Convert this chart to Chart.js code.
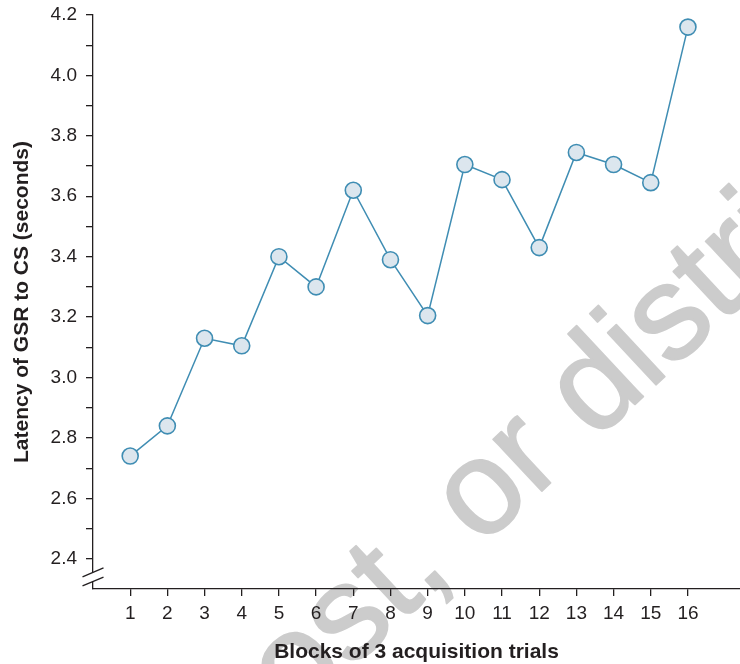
<!DOCTYPE html>
<html>
<head>
<meta charset="utf-8">
<script src="https://cdn.jsdelivr.net/npm/chart.js@4/dist/chart.umd.min.js"></script>
<style>
  html, body { margin: 0; padding: 0; background: #ffffff; }
  #c { display: block; }
</style>
</head>
<body>
<canvas id="c" width="740" height="664"></canvas>
<script>
// Mean latency of the GSR to the CS, per block of 3 acquisition trials
const blocks  = [1, 2, 3, 4, 5, 6, 7, 8, 9, 10, 11, 12, 13, 14, 15, 16];
const latency = [2.74, 2.84, 3.13, 3.105, 3.40, 3.30, 3.62, 3.39, 3.205, 3.705, 3.655, 3.43, 3.745, 3.705, 3.645, 4.16];

// Y axis: a tick every 0.1 s, a label every 0.2 s
const yTicks  = [2.4, 2.5, 2.6, 2.7, 2.8, 2.9, 3.0, 3.1, 3.2, 3.3, 3.4, 3.5, 3.6, 3.7, 3.8, 3.9, 4.0, 4.1, 4.2];
const yLabels = ['2.4', '2.6', '2.8', '3.0', '3.2', '3.4', '3.6', '3.8', '4.0', '4.2'];

// Where the y axis is broken (between these two values)
const yBreak = [2.325, 2.355];

const INK = '#231f20';
const LINE = '#3f8db3';
const FILL = '#dce6ee';
const FONT = '"Liberation Sans", Arial, Helvetica, sans-serif';

const background = {
  id: 'background',
  beforeDraw(chart) {
    const ctx = chart.ctx;
    ctx.save();
    ctx.fillStyle = '#ffffff';
    ctx.fillRect(0, 0, chart.width, chart.height);
    // diagonal notice printed behind the figure, anchored on the "s" of "distribute"
    const text = 'copy, post, or distribute';
    const size = 134;
    ctx.font = size + 'px ' + FONT;
    const lead = ctx.measureText('copy, post, or di').width + ctx.measureText('s').width / 2;
    ctx.translate(672, 322);
    ctx.rotate(-43 * Math.PI / 180);
    ctx.fillStyle = '#cccccc';
    ctx.strokeStyle = '#cccccc';
    ctx.lineWidth = 2;
    ctx.lineJoin = 'round';
    ctx.textBaseline = 'alphabetic';
    ctx.fillText(text, -lead, 0.26 * size);
    ctx.strokeText(text, -lead, 0.26 * size);
    ctx.restore();
  }
};

const axisBreak = {
  id: 'axisBreak',
  afterDraw(chart) {
    const ctx = chart.ctx;
    const y = chart.scales.y;
    const x0 = chart.chartArea.left;
    const lo = y.getPixelForValue(yBreak[0]);
    const hi = y.getPixelForValue(yBreak[1]);
    const half = 10.5, slope = 0.42;
    ctx.save();
    // open a gap in the axis line between the two slashes
    ctx.fillStyle = '#ffffff';
    ctx.fillRect(x0 - 2, hi, 4, lo - hi);
    ctx.strokeStyle = INK;
    ctx.lineWidth = 1.3;
    [hi, lo].forEach(py => {
      ctx.beginPath();
      ctx.moveTo(x0 - half, py + half * slope);
      ctx.lineTo(x0 + half, py - half * slope);
      ctx.stroke();
    });
    ctx.restore();
  }
};

new Chart(document.getElementById('c'), {
  type: 'line',
  data: {
    datasets: [{
      data: blocks.map((b, i) => ({ x: b, y: latency[i] })),
      borderColor: LINE,
      borderWidth: 1.5,
      pointRadius: 8,
      pointHoverRadius: 8,
      pointBackgroundColor: FILL,
      pointBorderColor: LINE,
      pointBorderWidth: 1.6,
      tension: 0,
      clip: false
    }]
  },
  options: {
    responsive: false,
    devicePixelRatio: 1,
    animation: false,
    layout: { autoPadding: false, padding: { top: 15, right: 0, bottom: 0, left: 0 } },
    plugins: {
      legend: { display: false },
      tooltip: { enabled: false }
    },
    scales: {
      x: {
        type: 'linear',
        position: 'bottom',
        min: 0,
        max: 17.4,
        afterBuildTicks: s => { s.ticks = blocks.map(v => ({ value: v })); },
        afterFit: s => {
          s.height = 75;
          s.paddingLeft = 0; s.paddingRight = 0;
        },
        ticks: {
          autoSkip: false,
          maxRotation: 0,
          padding: 6,
          color: INK,
          font: { family: FONT, size: 19 },
          callback: v => String(v)
        },
        grid: { drawOnChartArea: false, drawTicks: true, tickLength: 7, color: INK, lineWidth: 1.3 },
        border: { display: true, color: INK, width: 1.3 },
        title: {
          display: true,
          text: 'Blocks of 3 acquisition trials',
          color: INK,
          font: { family: FONT, size: 21, weight: 'bold', lineHeight: 1 },
          padding: { top: 0, bottom: 1 }
        }
      },
      y: {
        type: 'linear',
        min: 2.3,
        max: 4.2,
        afterBuildTicks: s => { s.ticks = yTicks.map(v => ({ value: v })); },
        afterFit: s => {
          s.width = 93;
          s.paddingTop = 0; s.paddingBottom = 0;
        },
        ticks: {
          autoSkip: false,
          padding: 9,
          color: INK,
          font: { family: FONT, size: 19 },
          callback: v => {
            const t = v.toFixed(1);
            return yLabels.includes(t) ? t : '';
          }
        },
        grid: { drawOnChartArea: false, drawTicks: true, tickLength: 7, color: INK, lineWidth: 1.3 },
        border: { display: true, color: INK, width: 1.3 },
        title: {
          display: true,
          text: 'Latency of GSR to CS (seconds)',
          color: INK,
          font: { family: FONT, size: 21, weight: 'bold', lineHeight: 1 },
          padding: { top: 12, bottom: 0 }
        }
      }
    }
  },
  plugins: [background, axisBreak]
});
</script>
</body>
</html>
